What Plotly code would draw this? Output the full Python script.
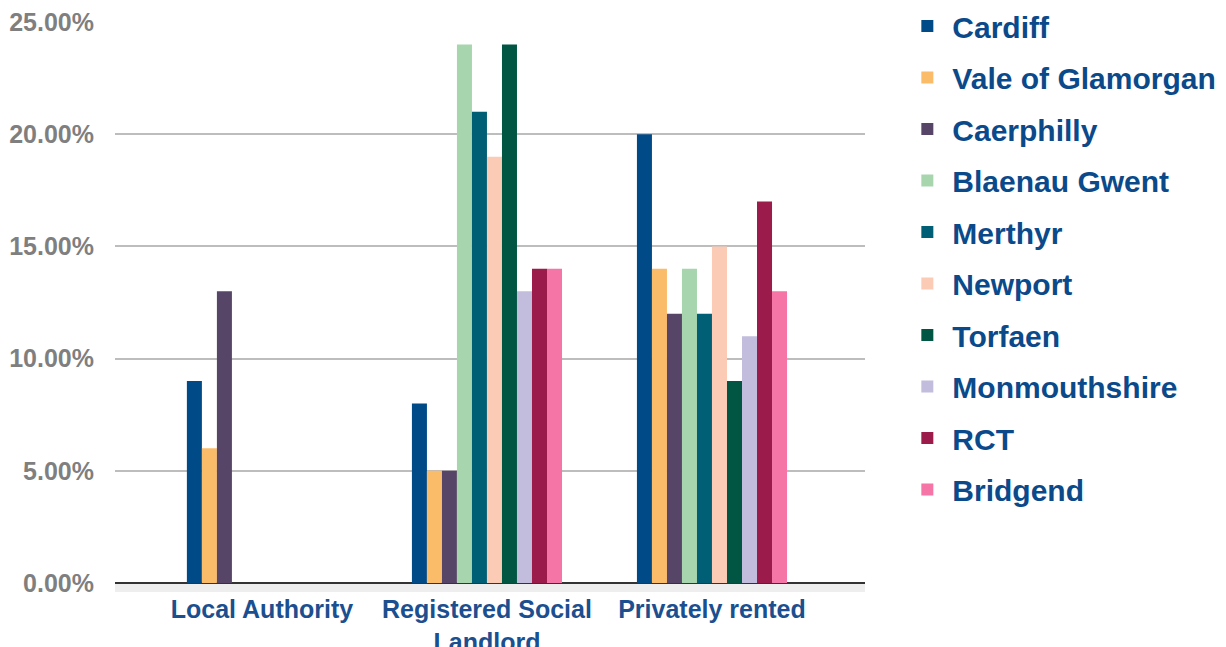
import plotly.graph_objects as go

categories = ["Local Authority", "Registered Social<br>Landlord", "Privately rented"]
series_names = ["Cardiff", "Vale of Glamorgan", "Caerphilly", "Blaenau Gwent", "Merthyr",
                "Newport", "Torfaen", "Monmouthshire", "RCT", "Bridgend"]
cardiff = [9, 8, 20]
vale_of_glamorgan = [6, 5, 14]
caerphilly = [13, 5, 12]
blaenau_gwent = [0, 24, 14]
merthyr = [0, 21, 12]
newport = [0, 19, 15]
torfaen = [0, 24, 9]
monmouthshire = [0, 13, 11]
rct = [0, 14, 17]
bridgend = [0, 14, 13]
series_values = [cardiff, vale_of_glamorgan, caerphilly, blaenau_gwent, merthyr,
                 newport, torfaen, monmouthshire, rct, bridgend]
colors = ["#004a87", "#fbbc6a", "#574567", "#a6d5ae", "#005f75",
          "#fccbb6", "#005643", "#c2bddd", "#9b1b4a", "#f575a6"]

fig = go.Figure()
for name, vals, col in zip(series_names, series_values, colors):
    fig.add_trace(go.Bar(
        x=categories, y=[v / 100 for v in vals], name=name,
        marker=dict(color=col, line=dict(width=0)),
        legendgroup=name,
    ))

# light floor strip under the baseline
fig.add_shape(type="rect", xref="paper", yref="paper", x0=0, x1=1, y0=-0.016, y1=0,
              fillcolor="#eeeeee", line=dict(width=0), layer="below")

fig.update_layout(
    width=1226, height=647,
    barmode="group", bargap=0.333, bargroupgap=0,
    plot_bgcolor="white", paper_bgcolor="white",
    margin=dict(l=115, r=361, t=22, b=64, autoexpand=False),
    font=dict(family="Liberation Sans, Arial, sans-serif"),
    xaxis=dict(
        range=[-0.653, 2.68],
        tickfont=dict(size=25, color="#1b4f8f", weight="bold"),
        showgrid=False, showline=False, ticks="",
        ticklabelstandoff=9, automargin=False,
    ),
    yaxis=dict(
        range=[0, 0.25], dtick=0.05, tickformat=".2%",
        tickfont=dict(size=25, color="#7f7f7f", weight="bold"),
        gridcolor="#bdbdbd", gridwidth=2,
        zeroline=True, zerolinecolor="#333333", zerolinewidth=2,
        showline=False, ticks="", ticklen=0,
        ticklabelstandoff=20, automargin=False,
    ),
    legend=dict(
        xref="container", yref="container",
        x=0.736, y=1.008, xanchor="left", yanchor="top",
        font=dict(size=30, color="#0b4a8a", weight="bold"),
        tracegroupgap=9.5, itemwidth=40, maxheight=645,
        bgcolor="rgba(0,0,0,0)",
    ),
)

fig.write_html("out.html")
